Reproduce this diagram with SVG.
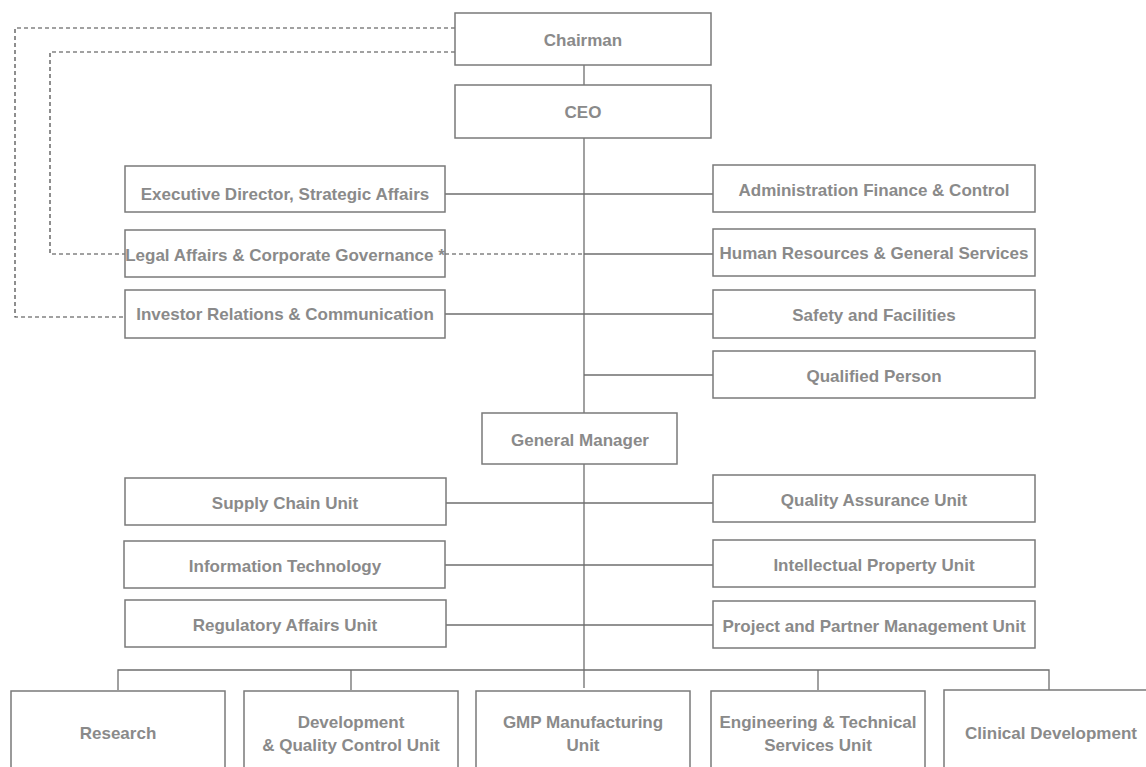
<svg xmlns="http://www.w3.org/2000/svg" width="1146" height="767" viewBox="0 0 1146 767">
<style>
.box{fill:#fff;stroke:#7a7a7a;stroke-width:1.5}
.t{font-family:"Liberation Sans",Arial,sans-serif;font-weight:bold;font-size:17px;fill:#8a8a8a;text-anchor:middle;dominant-baseline:central}
.ln{stroke:#6e6e6e;stroke-width:1.3;fill:none}
.dl{stroke:#444;stroke-width:1.2;fill:none;stroke-dasharray:4,3}
</style>
<rect width="1146" height="767" fill="#fff"/>
<g id="connectors">
<line class="ln" x1="584" y1="65" x2="584" y2="688"/>
<line class="ln" x1="445" y1="194" x2="713" y2="194"/>
<line class="dl" x1="445" y1="254" x2="584" y2="254"/>
<line class="ln" x1="584" y1="254" x2="713" y2="254"/>
<line class="ln" x1="445" y1="314" x2="713" y2="314"/>
<line class="ln" x1="584" y1="375" x2="713" y2="375"/>
<line class="ln" x1="446" y1="503" x2="713" y2="503"/>
<line class="ln" x1="445" y1="565" x2="713" y2="565"/>
<line class="ln" x1="446" y1="625" x2="713" y2="625"/>
<polyline class="ln" points="118,690 118,670 1049,670 1049,690"/>
<line class="ln" x1="351" y1="670" x2="351" y2="690"/>
<line class="ln" x1="818" y1="670" x2="818" y2="690"/>
<polyline class="dl" points="455,28 15,28 15,317 125,317"/>
<polyline class="dl" points="455,52 50,52 50,254 125,254"/>
</g>
<g id="chairman"><rect class="box" x="455" y="13" width="256" height="52"/><text class="t" x="583" y="40">Chairman</text></g>
<g id="ceo"><rect class="box" x="455" y="85" width="256" height="53"/><text class="t" x="583" y="112">CEO</text></g>
<g id="exec-director"><rect class="box" x="125" y="166" width="320" height="46"/><text class="t" x="285" y="194">Executive Director, Strategic Affairs</text></g>
<g id="legal"><rect class="box" x="125" y="230" width="320" height="47"/><text class="t" x="285" y="255">Legal Affairs &amp; Corporate Governance *</text></g>
<g id="investor"><rect class="box" x="125" y="290" width="320" height="48"/><text class="t" x="285" y="314">Investor Relations &amp; Communication</text></g>
<g id="admin-finance"><rect class="box" x="713" y="165" width="322" height="47"/><text class="t" x="874" y="190">Administration Finance &amp; Control</text></g>
<g id="hr"><rect class="box" x="713" y="229" width="322" height="47"/><text class="t" x="874" y="253">Human Resources &amp; General Services</text></g>
<g id="safety"><rect class="box" x="713" y="290" width="322" height="48"/><text class="t" x="874" y="315">Safety and Facilities</text></g>
<g id="qualified"><rect class="box" x="713" y="351" width="322" height="47"/><text class="t" x="874" y="376">Qualified Person</text></g>
<g id="general-manager"><rect class="box" x="482" y="413" width="195" height="51"/><text class="t" x="580" y="440">General Manager</text></g>
<g id="supply-chain"><rect class="box" x="125" y="478" width="321" height="47"/><text class="t" x="285" y="503">Supply Chain Unit</text></g>
<g id="info-tech"><rect class="box" x="124" y="541" width="321" height="47"/><text class="t" x="285" y="566">Information Technology</text></g>
<g id="regulatory"><rect class="box" x="125" y="600" width="321" height="47"/><text class="t" x="285" y="625">Regulatory Affairs Unit</text></g>
<g id="quality-assurance"><rect class="box" x="713" y="475" width="322" height="47"/><text class="t" x="874" y="500">Quality Assurance Unit</text></g>
<g id="ip"><rect class="box" x="713" y="540" width="322" height="47"/><text class="t" x="874" y="565">Intellectual Property Unit</text></g>
<g id="project"><rect class="box" x="713" y="601" width="322" height="47"/><text class="t" x="874" y="626">Project and Partner Management Unit</text></g>
<g id="research"><rect class="box" x="11" y="691" width="214" height="90"/><text class="t" x="118" y="733">Research</text></g>
<g id="development"><rect class="box" x="244" y="691" width="214" height="90"/><text class="t" x="351" y="722">Development</text><text class="t" x="351" y="745">&amp; Quality Control Unit</text></g>
<g id="gmp"><rect class="box" x="476" y="691" width="214" height="90"/><text class="t" x="583" y="722">GMP Manufacturing</text><text class="t" x="583" y="745">Unit</text></g>
<g id="engineering"><rect class="box" x="711" y="691" width="214" height="90"/><text class="t" x="818" y="722">Engineering &amp; Technical</text><text class="t" x="818" y="745">Services Unit</text></g>
<g id="clinical"><rect class="box" x="944" y="690" width="214" height="90"/><text class="t" x="1051" y="733">Clinical Development</text></g>
</svg>
